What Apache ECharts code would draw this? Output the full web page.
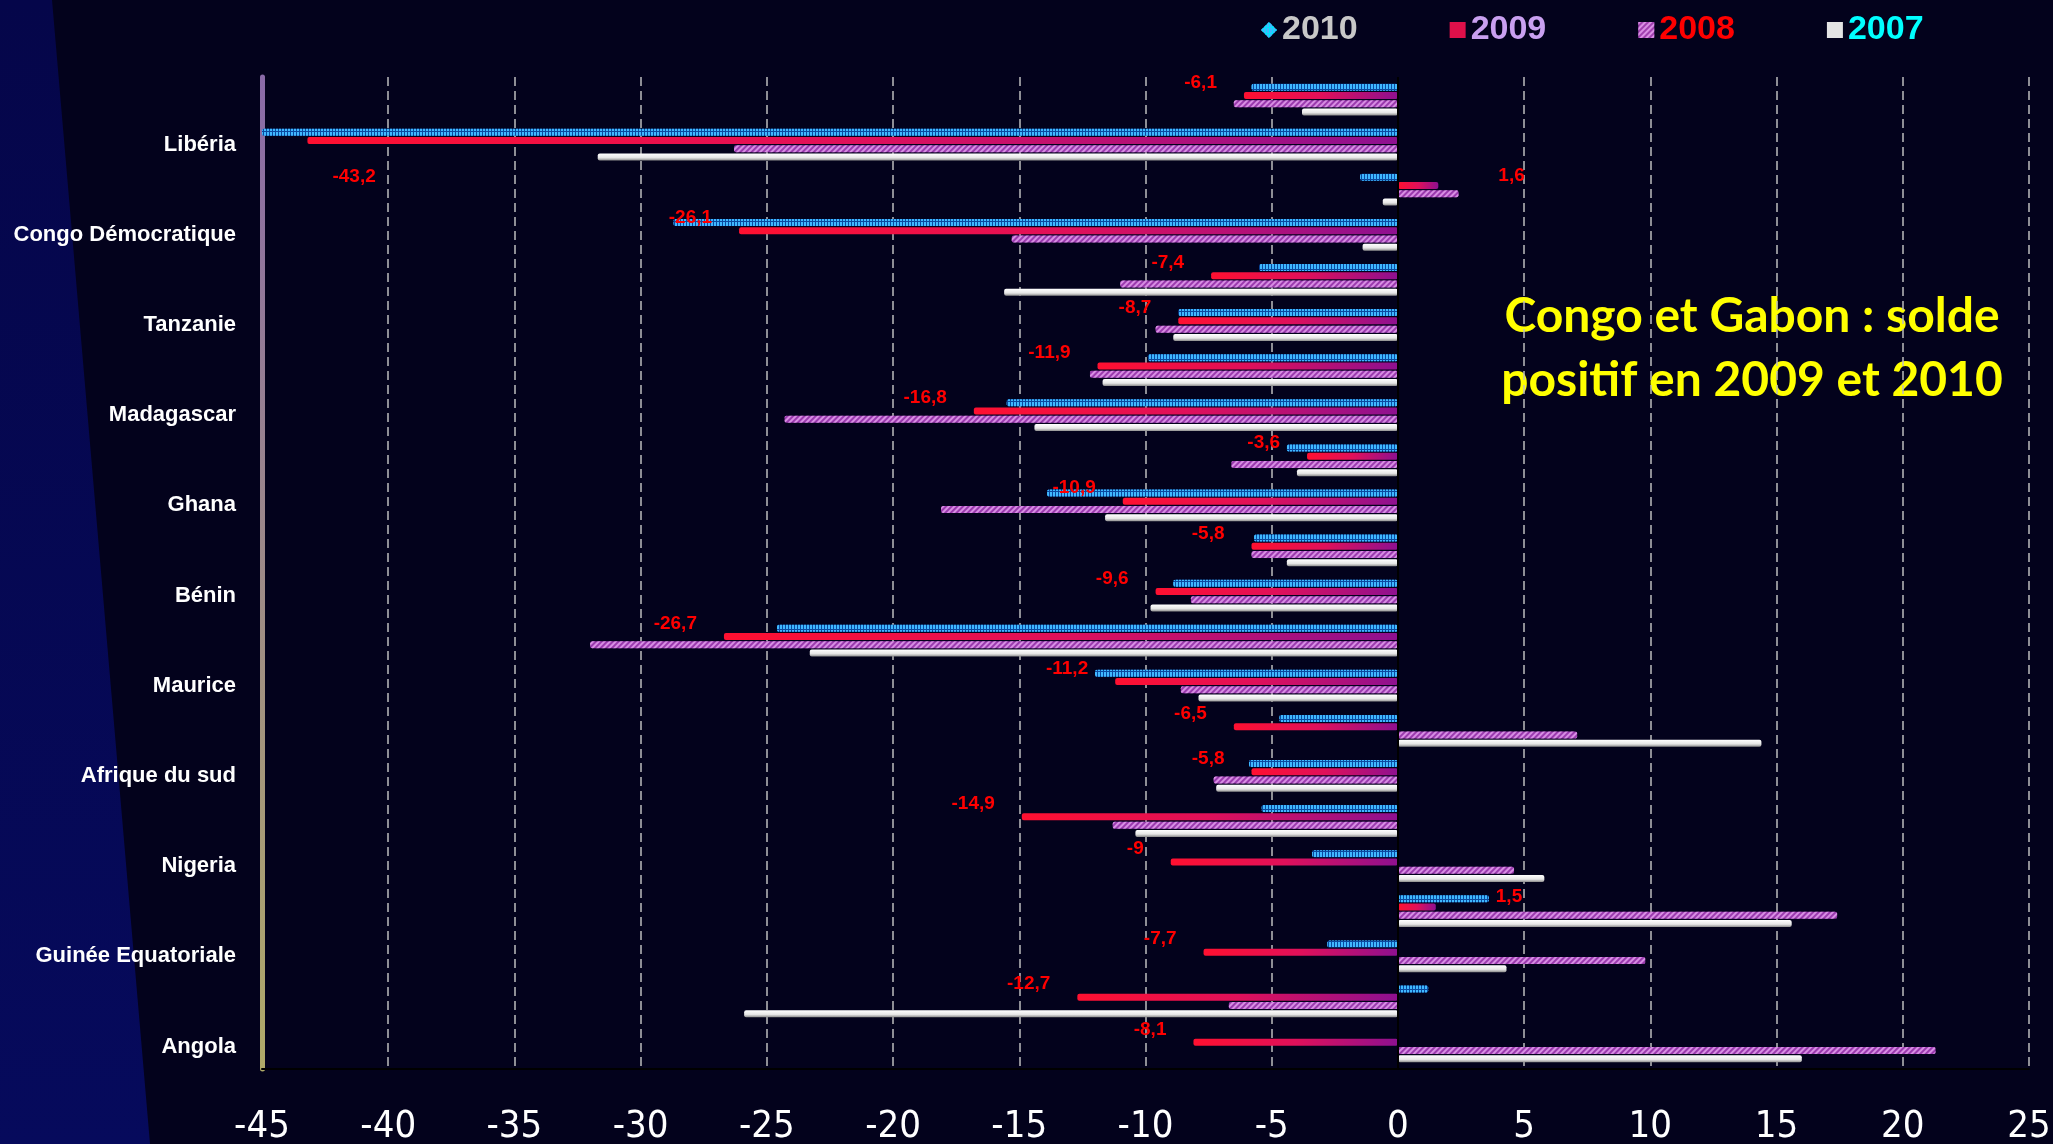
<!DOCTYPE html>
<html>
<head>
<meta charset="utf-8">
<title>Solde</title>
<script src="https://cdn.jsdelivr.net/npm/echarts/dist/echarts.min.js"></script>
<style>
  html, body { margin: 0; padding: 0; background: #03021c; }
  #chart { width: 2053px; height: 1144px; }
</style>
</head>
<body>
<div id="chart"></div>
<script>
// categories listed from top to bottom, only every other one is labelled
var countries = ['', 'Libéria', '', 'Congo Démocratique', '', 'Tanzanie', '', 'Madagascar',
  '', 'Ghana', '', 'Bénin', '', 'Maurice', '', 'Afrique du sud', '', 'Nigeria',
  '', 'Guinée Equatoriale', '', 'Angola']

var years = ['2010', '2009', '2008', '2007']

var v2010 = [-5.8, -45, -1.5, -28.7, -5.5, -8.7, -9.9, -15.5, -4.4, -13.9, -5.7,
  -8.9, -24.6, -12.0, -4.7, -5.9, -5.4, -3.4, 3.6, -2.8, 1.2, null]
var v2009 = [-6.1, -43.2, 1.6, -26.1, -7.4, -8.7, -11.9, -16.8, -3.6, -10.9, -5.8,
  -9.6, -26.7, -11.2, -6.5, -5.8, -14.9, -9, 1.5, -7.7, -12.7, -8.1]
var v2008 = [-6.5, -26.3, 2.4, -15.3, -11.0, -9.6, -12.2, -24.3, -6.6, -18.1, -5.8,
  -8.2, -32.0, -8.6, 7.1, -7.3, -11.3, 4.6, 17.4, 9.8, -6.7, 21.3]
var v2007 = [-3.8, -31.7, -0.6, -1.4, -15.6, -8.9, -11.7, -14.4, -4.0, -11.6, -4.4,
  -9.8, -23.3, -7.9, 14.4, -7.2, -10.4, 5.8, 15.6, 4.3, -25.9, 16.0]

var xTicks = { min: -45, max: 25, step: 5 }

var note = 'Congo et Gabon : solde\npositif en 2009 et 2010'

var G = echarts.graphic
var chart = echarts.init(document.getElementById('chart'))

// red labels on the 2009 bars, placed beside the bar end
function label2009 (v) {
  var lab
  if (v < -40) {
    lab = { position: 'insideLeft', offset: [20, 36] }
  } else if (v < 0) {
    lab = { position: 'left', offset: [-22, -13] }
  } else {
    lab = { position: 'right', offset: [55, -10] }
  }
  return { value: v, label: lab }
}

var barBase = {
  type: 'bar',
  barWidth: 7,
  barGap: '18%',
  itemStyle: { borderRadius: 2 }
}

chart.setOption({
  backgroundColor: '#03021c',
  animation: false,
  graphic: [
    {
      type: 'polygon',
      z: -10,
      silent: true,
      shape: { points: [[0, 0], [52, 0], [150, 1144], [0, 1144]] },
      style: {
        fill: new G.LinearGradient(0, 0, 0, 1, [
          { offset: 0, color: '#05064a' },
          { offset: 1, color: '#060a5c' }
        ])
      }
    },
    {
      type: 'text',
      x: 1752,
      y: 349,
      style: {
        text: note,
        align: 'center',
        verticalAlign: 'middle',
        fontFamily: 'Lato',
        fontWeight: 'bold',
        fontSize: 48,
        lineHeight: 64,
        fill: '#ffff00'
      }
    }
  ],
  legend: {
    left: 1256,
    top: 8,
    itemWidth: 16,
    itemHeight: 16,
    itemGap: 92,
    textStyle: { fontFamily: 'Liberation Sans', fontWeight: 'bold', fontSize: 34 },
    data: [
      { name: '2010', icon: 'diamond', itemStyle: { color: '#00e5ff' }, textStyle: { color: '#c8c8c8' } },
      { name: '2009', icon: 'rect', itemStyle: { color: '#e0104a' }, textStyle: { color: '#c9a0f0' } },
      { name: '2008', icon: 'rect', itemStyle: { color: '#a040b0' }, textStyle: { color: '#ff0000' } },
      { name: '2007', icon: 'rect', itemStyle: { color: '#e4e4e4' }, textStyle: { color: '#00ffff' } }
    ]
  },
  grid: {
    left: 262,
    right: 24,
    top: 77,
    bottom: 75,
    outerBoundsMode: 'none'
  },
  xAxis: {
    type: 'value',
    min: xTicks.min,
    max: xTicks.max,
    interval: xTicks.step,
    axisLine: { show: true, lineStyle: { color: '#000000', width: 2 } },
    axisTick: { show: false },
    axisLabel: {
      color: '#ffffff',
      fontFamily: "'Liberation Sans Narrow', 'DejaVu Sans Condensed', sans-serif",
      fontSize: 38,
      margin: 39
    },
    splitLine: { lineStyle: { color: '#bdbdbd', width: 1.5, type: [9, 5] } }
  },
  yAxis: {
    type: 'category',
    inverse: true,
    data: countries,
    axisLine: {
      onZero: false,
      lineStyle: {
        width: 5,
        color: new G.LinearGradient(0, 0, 0, 1, [
          { offset: 0, color: '#8a6aa8' },
          { offset: 1, color: '#b0aa68' }
        ])
      }
    },
    axisTick: { show: false },
    axisLabel: {
      interval: function (i) { return i % 2 === 1 },
      color: '#ffffff',
      fontFamily: 'Liberation Sans',
      fontWeight: 'bold',
      fontSize: 22,
      margin: 26
    }
  },
  series: [
    Object.assign({}, barBase, {
      name: years[0],
      data: v2010,
      itemStyle: {
        borderRadius: 2,
        color: '#0a4aa0',
        decal: {
          symbol: 'rect',
          symbolSize: 1,
          color: '#40b8ff',
          dashArrayX: [2, 1],
          dashArrayY: [5, 1]
        }
      }
    }),
    Object.assign({}, barBase, {
      name: years[1],
      z: 3,
      data: v2009.map(label2009),
      itemStyle: {
        borderRadius: 2,
        color: new G.LinearGradient(0, 0, 1, 0, [
          { offset: 0, color: '#ff1030' },
          { offset: 0.5, color: '#e0105a' },
          { offset: 1, color: '#8e1090' }
        ])
      },
      label: {
        show: true,
        color: '#ff0000',
        fontFamily: 'Liberation Sans',
        fontWeight: 'bold',
        fontSize: 19,
        formatter: function (p) { return String(p.value).replace('.', ',') }
      }
    }),
    Object.assign({}, barBase, {
      name: years[2],
      data: v2008,
      itemStyle: {
        borderRadius: 2,
        color: '#9a3aae',
        decal: {
          symbol: 'rect',
          symbolSize: 1,
          color: 'rgba(236,170,246,0.75)',
          dashArrayX: [1, 0],
          dashArrayY: [2, 2],
          rotation: -Math.PI / 4
        }
      }
    }),
    Object.assign({}, barBase, {
      name: years[3],
      data: v2007,
      itemStyle: {
        borderRadius: 2,
        color: new G.LinearGradient(0, 0, 0, 1, [
          { offset: 0, color: '#ffffff' },
          { offset: 0.6, color: '#e6e6e6' },
          { offset: 1, color: '#8c8c8c' }
        ])
      },
      markLine: {
        silent: true,
        symbol: 'none',
        label: { show: false },
        lineStyle: { color: '#000000', width: 2, type: 'solid' },
        data: [{ xAxis: 0 }]
      }
    })
  ]
})
</script>
</body>
</html>
